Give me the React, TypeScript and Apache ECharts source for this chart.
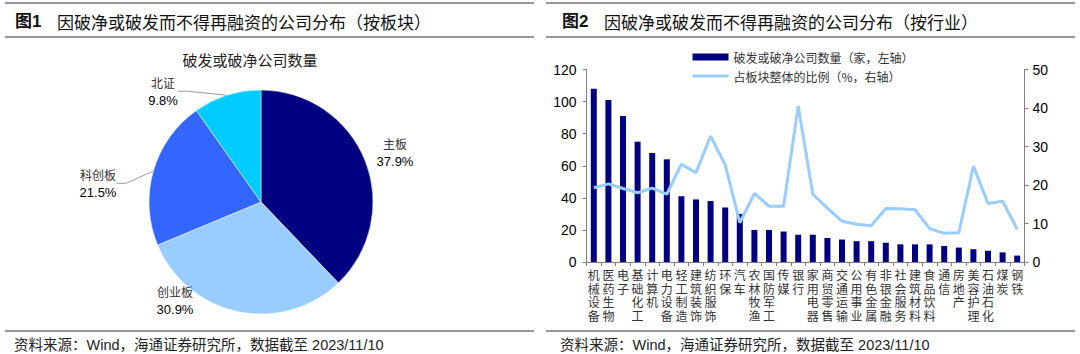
import React, { useEffect, useRef } from "react";
import * as echarts from "echarts";

const pieNames = ["主板", "创业板", "科创板", "北证"];
const pieValues = [37.9, 30.9, 21.5, 9.8];
const pieColors = ["#000080", "#99CCFF", "#3366FF", "#00CCFF"];

const industries = [
  "机械设备", "医药生物", "电子", "基础化工", "计算机", "电力设备", "轻工制造", "建筑装饰",
  "纺织服饰", "环保", "汽车", "农林牧渔", "国防军工", "传媒", "银行", "家用电器",
  "商贸零售", "交通运输", "公用事业", "有色金属", "非银金融", "社会服务", "建筑材料", "食品饮料",
  "通信", "房地产", "美容护理", "石油石化", "煤炭", "钢铁",
];
const companyCounts = [
  108, 101, 91, 75, 68, 64, 41, 39, 38, 34, 30, 20, 20, 19, 17, 17,
  15, 14, 13, 13, 12, 11, 11, 11, 10, 9, 8, 7, 6, 4,
];
const ratioPct = [
  19.3, 20.3, 19.1, 18.0, 19.2, 17.6, 25.4, 23.2, 32.7, 25.2, 10.2, 17.8, 14.5, 14.5, 40.5, 17.6,
  14.0, 10.6, 9.8, 9.4, 13.9, 13.8, 13.6, 8.7, 7.45, 7.6, 24.9, 15.2, 15.8, 8.5,
];
const leftTicks = { min: 0, max: 120, interval: 20 };
const rightTicks = { min: 0, max: 50, interval: 10 };

const barName = "破发或破净公司数量（家，左轴）";
const lineName = "占板块整体的比例（%，右轴）";
const title1 = "因破净或破发而不得再融资的公司分布（按板块）";
const title2 = "因破净或破发而不得再融资的公司分布（按行业）";
const pieTitle = "破发或破净公司数量";
const sourceText = "资料来源：Wind，海通证券研究所，数据截至 2023/11/10";

const FONT = "'Liberation Sans', 'Noto Sans CJK SC', sans-serif";
const CJK = "'Noto Sans CJK SC', 'Liberation Sans', sans-serif";

const pieLabelPos: Record<number, [number, number]> = {
  0: [395, 152],
  1: [175, 300],
  2: [98, 183],
  3: [163, 91],
};

export default function App() {
  const ref = useRef<HTMLDivElement>(null);
  useEffect(() => {
    if (!ref.current) return;
    const chart = echarts.init(ref.current, null, { renderer: "svg" });
    const hline = (x1: number, x2: number, y: number) => ({
      type: "line",
      shape: { x1, y1: y, x2, y2: y },
      style: { stroke: "#333", lineWidth: 1.2 },
      silent: true,
    });
    const titleText = (x: number, num: string, t: string) => ({
      type: "text",
      x,
      y: 21,
      style: {
        text: `{n|${num}}{t|${t}}`,
        verticalAlign: "middle",
        rich: {
          n: { fontFamily: FONT, fontWeight: "bold", fontSize: 17, fill: "#111", width: 42 },
          t: { fontFamily: CJK, fontSize: 17, fill: "#111" },
        },
      },
    });
    const srcText = (x: number) => ({
      type: "text",
      x,
      y: 345,
      style: {
        text: sourceText,
        fontFamily: FONT,
        fontSize: 14.5,
        fill: "#222",
        verticalAlign: "middle",
      },
    });
    chart.setOption({
      animation: false,
      backgroundColor: "#fff",
      graphic: [
        hline(5, 534, 3),
        hline(5, 534, 37),
        hline(5, 534, 331),
        hline(546, 1075, 3),
        hline(546, 1075, 37),
        hline(546, 1075, 331),
        titleText(15, "图1", title1),
        titleText(562, "图2", title2),
        srcText(14),
        srcText(560),
        {
          type: "text",
          x: 250,
          y: 59,
          style: {
            text: pieTitle,
            fontFamily: CJK,
            fontSize: 15,
            fill: "#222",
            align: "center",
            verticalAlign: "middle",
          },
        },
      ],
      legend: {
        orient: "vertical",
        left: 686,
        top: 46,
        itemWidth: 36,
        itemHeight: 7,
        itemGap: 7,
        textStyle: { fontFamily: CJK, fontSize: 12, color: "#333" },
        data: [
          { name: barName, icon: "rect" },
          { name: lineName, itemStyle: { opacity: 0 }, lineStyle: { width: 3, color: "#99CCFF" } },
        ],
      },
      grid: { left: 586.5, right: 55.5, top: 69.5, bottom: 92, containLabel: false },
      xAxis: {
        type: "category",
        data: industries,
        axisLine: { lineStyle: { color: "#808080" } },
        axisTick: { show: true, alignWithLabel: false, length: 4, lineStyle: { color: "#808080" } },
        axisLabel: {
          interval: 0,
          margin: 6,
          fontFamily: CJK,
          fontSize: 12,
          lineHeight: 13.5,
          color: "#333",
          formatter: (v: string) => v.split("").join("\n"),
        },
      },
      yAxis: [
        {
          type: "value",
          ...leftTicks,
          position: "left",
          splitLine: { show: false },
          axisLine: { show: true, lineStyle: { color: "#808080" } },
          axisTick: { show: true, length: 4, lineStyle: { color: "#808080" } },
          axisLabel: { fontFamily: FONT, fontSize: 14, color: "#000", margin: 10 },
        },
        {
          type: "value",
          ...rightTicks,
          position: "right",
          splitLine: { show: false },
          axisLine: { show: true, lineStyle: { color: "#808080" } },
          axisTick: { show: true, length: 4, lineStyle: { color: "#808080" } },
          axisLabel: { fontFamily: FONT, fontSize: 14, color: "#000", margin: 8 },
        },
      ],
      series: [
        {
          type: "pie",
          name: pieTitle,
          center: [261, 202],
          radius: 112,
          startAngle: 90,
          clockwise: true,
          data: pieNames.map((n, i) => ({
            name: n,
            value: pieValues[i],
            itemStyle: { color: pieColors[i] },
            labelLine: { show: i >= 2 },
          })),
          itemStyle: { borderColor: "#fff", borderWidth: 0.5 },
          label: {
            show: true,
            position: "outside",
            formatter: (p: any) => `{n|${p.name}}\n{v|${p.value.toFixed(1)}%}`,
            rich: {
              n: { fontFamily: CJK, fontSize: 12, color: "#333", lineHeight: 18, align: "center" },
              v: { fontFamily: FONT, fontSize: 13, color: "#000", lineHeight: 18, align: "center" },
            },
          },
          labelLine: { lineStyle: { color: "#999", width: 1 }, length: 10, length2: 10 },
          labelLayout: (p: any) => {
            const pos = pieLabelPos[p.dataIndex];
            return { x: pos[0], y: pos[1], align: "center", verticalAlign: "middle" };
          },
        },
        {
          type: "bar",
          name: barName,
          data: companyCounts,
          yAxisIndex: 0,
          barWidth: 6,
          itemStyle: { color: "#000080" },
        },
        {
          type: "line",
          name: lineName,
          data: ratioPct,
          yAxisIndex: 1,
          symbol: "none",
          lineStyle: { color: "#99CCFF", width: 3 },
          itemStyle: { color: "#99CCFF" },
        },
      ],
    });
    return () => chart.dispose();
  }, []);
  return (
    <div
      ref={ref}
      style={{ position: "fixed", left: 0, top: 0, width: 1080, height: 354, background: "#fff" }}
    />
  );
}
